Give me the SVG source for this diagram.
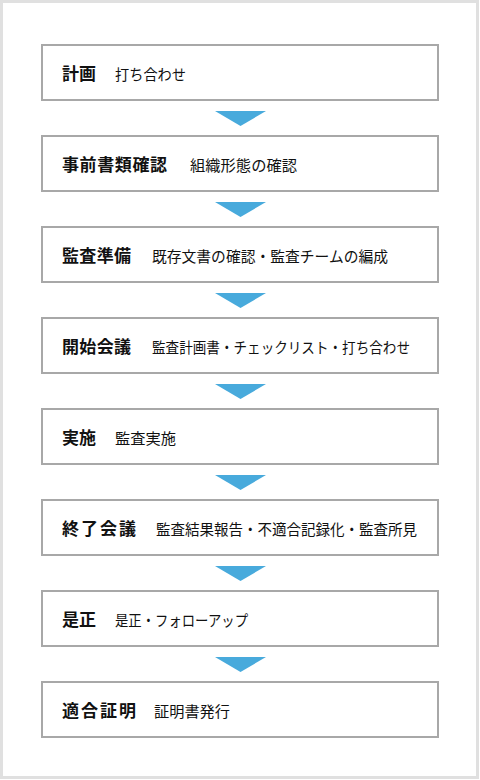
<svg xmlns="http://www.w3.org/2000/svg" width="480" height="780" viewBox="0 0 480 780">
<style>
.frame{fill:#fff;stroke:#e0e0e0;stroke-width:3}
.box{fill:#fff;stroke:#a8a8a8;stroke-width:2}
.t{font-family:"Noto Sans CJK JP","Noto Sans",sans-serif;font-size:17px;font-weight:bold;fill:#111}
.s{font-family:"Noto Sans CJK JP","Noto Sans",sans-serif;font-size:15px;fill:#111}
.arr{fill:#48aadc}
</style>
<rect class="frame" x="1.5" y="1.5" width="476" height="776"/>
<g id="connectors">
<polygon class="arr" points="215,111 266,111 240.5,126"/>
<polygon class="arr" points="215,202 266,202 240.5,217"/>
<polygon class="arr" points="215,293 266,293 240.5,308"/>
<polygon class="arr" points="215,384 266,384 240.5,399"/>
<polygon class="arr" points="215,475 266,475 240.5,490"/>
<polygon class="arr" points="215,566 266,566 240.5,581"/>
<polygon class="arr" points="215,657 266,657 240.5,672"/>
</g>
<g id="n1"><rect class="box" x="42" y="45" width="396" height="55"/><text class="t" x="62" y="80">計画</text><text class="s" x="115" y="80" textLength="71" lengthAdjust="spacingAndGlyphs">打ち合わせ</text></g>
<g id="n2"><rect class="box" x="42" y="136" width="396" height="55"/><text class="t" x="62" y="171" textLength="105">事前書類確認</text><text class="s" x="190" y="171" textLength="107" lengthAdjust="spacingAndGlyphs">組織形態の確認</text></g>
<g id="n3"><rect class="box" x="42" y="227" width="396" height="55"/><text class="t" x="62" y="262" textLength="69">監査準備</text><text class="s" x="152" y="262" textLength="236" lengthAdjust="spacingAndGlyphs">既存文書の確認・監査チームの編成</text></g>
<g id="n4"><rect class="box" x="42" y="318" width="396" height="55"/><text class="t" x="62" y="353" textLength="69">開始会議</text><text class="s" x="152" y="353" textLength="258" lengthAdjust="spacingAndGlyphs">監査計画書・チェックリスト・打ち合わせ</text></g>
<g id="n5"><rect class="box" x="42" y="409" width="396" height="55"/><text class="t" x="62" y="444">実施</text><text class="s" x="115" y="444" textLength="61" lengthAdjust="spacingAndGlyphs">監査実施</text></g>
<g id="n6"><rect class="box" x="42" y="500" width="396" height="55"/><text class="t" x="62" y="535" textLength="74">終了会議</text><text class="s" x="156" y="535" textLength="261" lengthAdjust="spacingAndGlyphs">監査結果報告・不適合記録化・監査所見</text></g>
<g id="n7"><rect class="box" x="42" y="591" width="396" height="55"/><text class="t" x="62" y="626">是正</text><text class="s" x="115" y="626" textLength="133" lengthAdjust="spacingAndGlyphs">是正・フォローアップ</text></g>
<g id="n8"><rect class="box" x="42" y="682" width="396" height="55"/><text class="t" x="62" y="717" textLength="74">適合証明</text><text class="s" x="154" y="717" textLength="76" lengthAdjust="spacingAndGlyphs">証明書発行</text></g>
</svg>
